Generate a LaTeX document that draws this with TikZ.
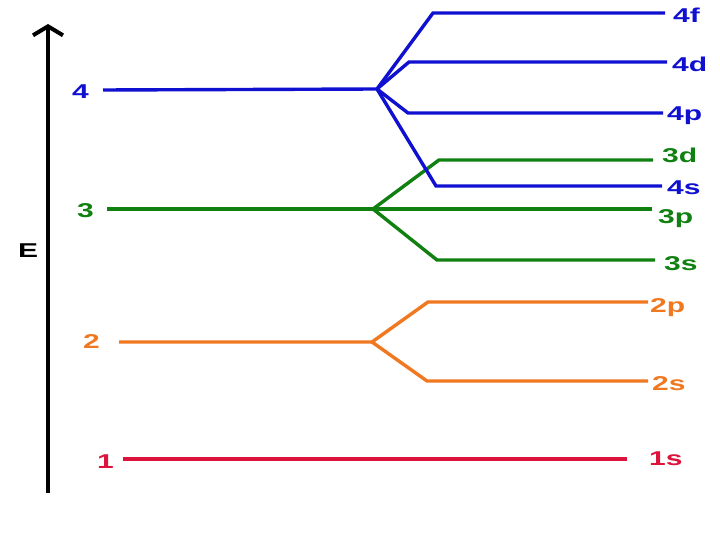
\documentclass[tikz,border=0pt]{standalone}
\usepackage{fontspec}
\setmainfont{Liberation Sans}
\definecolor{shRed}   {RGB}{220, 20, 60}
\definecolor{shOrange}{RGB}{240,120, 32}
\definecolor{shGreen} {RGB}{ 16,128, 16}
\definecolor{shBlue}  {RGB}{ 16, 16,208}
\usetikzlibrary{arrows.meta}
\newcommand\widelbl[1]{\scalebox{1.5}[1]{#1}}

\begin{document}
\begin{tikzpicture}[
  x=1pt, y=-1pt,
  orb/.style={line width=3.4pt},
  lbl/.style={font=\fontsize{20}{24}\selectfont\bfseries,
              inner sep=0pt, anchor=base west},
  axis/.style={line width=4pt, -{Straight Barb[length=9pt,width=30pt]}},
]
  \useasboundingbox (0,0) rectangle (720,540);

  % energy axis
  \coordinate (ax0) at (48,493);
  \coordinate (ax1) at (48,24);
  \draw[axis] (ax0) -- (ax1);
  \node[lbl] (E) at (18,257) {\widelbl{E}};

  % shell 4 and its four subshells
  \node[lbl, text=shBlue] (n4)  at ( 72, 99) {\widelbl{4}};
  \coordinate (s4)  at (103, 90);
  \coordinate (b4)  at (377, 89);
  \coordinate (c4f) at (433, 13);  \coordinate (e4f) at (665, 13);
  \coordinate (c4d) at (409, 62);  \coordinate (e4d) at (667, 62);
  \coordinate (c4p) at (408,113);  \coordinate (e4p) at (663,113);
  \coordinate (c4s) at (436,186);  \coordinate (e4s) at (662,186);
  \draw[orb, shBlue] (s4) -- (b4);
  \draw[orb, shBlue] (b4) -- (c4f) -- (e4f);
  \draw[orb, shBlue] (b4) -- (c4d) -- (e4d);
  \draw[orb, shBlue] (b4) -- (c4p) -- (e4p);
  \node[lbl, text=shBlue] (l4f) at (673, 23) {\widelbl{4f}};
  \node[lbl, text=shBlue] (l4d) at (672, 72) {\widelbl{4d}};
  \node[lbl, text=shBlue] (l4p) at (667,121) {\widelbl{4p}};

  % shell 3
  \node[lbl, text=shGreen] (n3) at ( 77,218) {\widelbl{3}};
  \coordinate (s3)  at (107,209);
  \coordinate (b3)  at (373,209);
  \coordinate (c3d) at (439,160);  \coordinate (e3d) at (653,160);
  \coordinate (e3p) at (652,209);
  \coordinate (c3s) at (437,260);  \coordinate (e3s) at (655,260);
  \draw[orb, shGreen] (s3) -- (b3) -- (e3p);
  \draw[orb, shGreen] (b3) -- (c3d) -- (e3d);
  \draw[orb, shGreen] (b3) -- (c3s) -- (e3s);
  \node[lbl, text=shGreen] (l3d) at (662,163) {\widelbl{3d}};
  \node[lbl, text=shGreen] (l3p) at (658,223) {\widelbl{3p}};
  \node[lbl, text=shGreen] (l3s) at (664,270) {\widelbl{3s}};

  % 4s drawn over the 3d branch
  \draw[orb, shBlue] (b4) -- (c4s) -- (e4s);
  \node[lbl, text=shBlue] (l4s) at (667,195) {\widelbl{4s}};

  % shell 2
  \node[lbl, text=shOrange] (n2) at ( 83,348) {\widelbl{2}};
  \coordinate (s2)  at (119,342);
  \coordinate (b2)  at (372,342);
  \coordinate (c2p) at (428,302);  \coordinate (e2p) at (648,302);
  \coordinate (c2s) at (427,381);  \coordinate (e2s) at (648,381);
  \draw[orb, shOrange] (s2) -- (b2) -- (c2p) -- (e2p);
  \draw[orb, shOrange] (b2) -- (c2s) -- (e2s);
  \node[lbl, text=shOrange] (l2p) at (650,312) {\widelbl{2p}};
  \node[lbl, text=shOrange] (l2s) at (652,390) {\widelbl{2s}};

  % shell 1
  \node[lbl, text=shRed] (n1) at ( 97,468) {\widelbl{1}};
  \coordinate (s1) at (123,459);
  \coordinate (e1) at (627,459);
  \draw[orb, shRed] (s1) -- (e1);
  \node[lbl, text=shRed] (l1s) at (649,465) {\widelbl{1s}};
\end{tikzpicture}
\end{document}
